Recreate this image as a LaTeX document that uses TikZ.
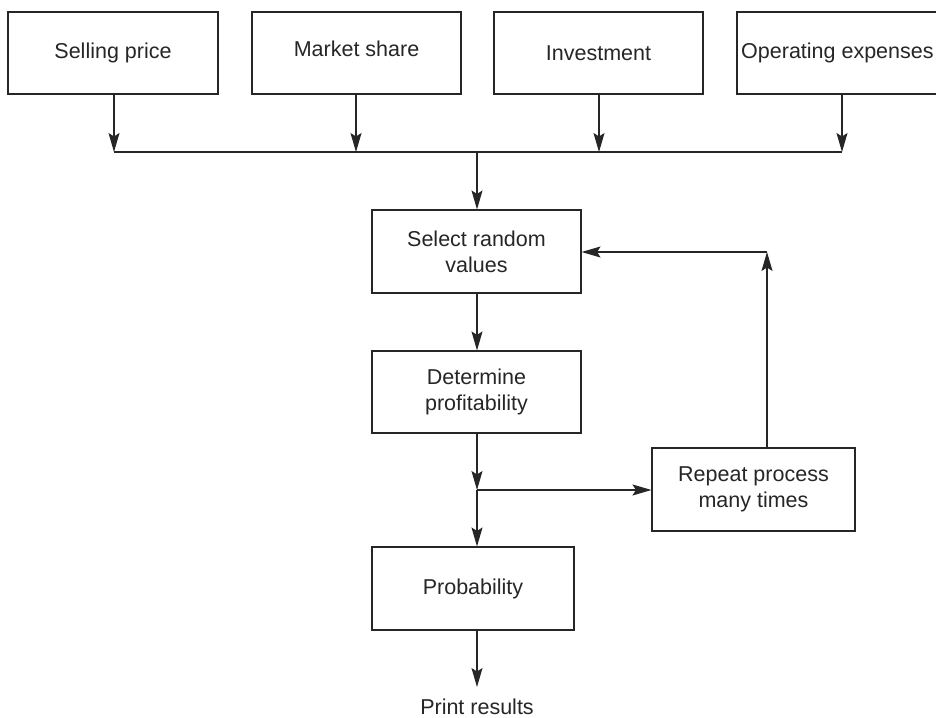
\documentclass[tikz,border=0pt]{standalone}
\usepackage{fontspec}
\setmainfont{Liberation Sans}
\usetikzlibrary{arrows.meta}
\definecolor{ink}{HTML}{262626}
\begin{document}
\begin{tikzpicture}[x=1pt,y=-1pt,
  box/.style={draw=ink,line width=1.1pt,text=ink,align=center,inner sep=0pt,
    font=\fontsize{21.5}{26}\selectfont},
  conn/.style={draw=ink,line width=1.1pt},
  arr/.style={conn,-{Stealth[length=19pt,width=11pt,inset=3.5pt]}}]
\clip (0,0) rectangle (936,717);
\fill[white] (0,0) rectangle (936,717);
% top boxes
\node[box,minimum width=210pt,minimum height=82pt] (sp) at (113,53) {};
\node[text=ink,font=\fontsize{21.5}{26}\selectfont] (spt) at (113,53) {Selling price};
\node[box,minimum width=209pt,minimum height=82pt] (ms) at (356.5,53) {};
\node[text=ink,font=\fontsize{21.5}{26}\selectfont] (mst) at (356.5,49) {Market share};
\node[box,minimum width=209pt,minimum height=82pt] (inv) at (598.5,53) {};
\node[text=ink,font=\fontsize{21.5}{26}\selectfont] (invt) at (598.5,53) {Investment};
\node[box,minimum width=210pt,minimum height=82pt] (opx) at (842,53) {};
\node[text=ink,font=\fontsize{21.5}{26}\selectfont,anchor=west,inner sep=0pt] (opxt) at (741,53) {Operating expenses};
% middle column
\node[box,minimum width=209pt,minimum height=83pt] (sel) at (476.5,251.5) {Select random\\values};
\node[box,minimum width=209pt,minimum height=82pt] (det) at (476.5,392) {Determine\\profitability};
\node[box,minimum width=203pt,minimum height=83pt] (rep) at (753.5,489.5) {Repeat process\\many times};
\node[box,minimum width=202pt,minimum height=83pt] (prob) at (473,588.5) {Probability};
\node[text=ink,font=\fontsize{21.5}{26}\selectfont,anchor=base,inner sep=0pt] (pr) at (477,714) {Print results};
% coordinates
\coordinate (h1) at (114,152);
\coordinate (h2) at (356,152);
\coordinate (h3) at (599,152);
\coordinate (h4) at (842,152);
\coordinate (hm) at (477,152);
\coordinate (j) at (477,490);
\coordinate (rt) at (767,448);
\coordinate (rc) at (767,252);
\coordinate (pe) at (477,687);
% connectors
\draw[arr] (sp.south -| h1) -- (h1);
\draw[arr] (ms.south -| h2) -- (h2);
\draw[arr] (inv.south -| h3) -- (h3);
\draw[arr] (opx.south -| h4) -- (h4);
\draw[conn] (h1) -- (h4);
\draw[arr] (hm) -- (sel.north -| hm);
\draw[arr] (sel.south -| hm) -- (det.north -| hm);
\draw[arr] (det.south -| j) -- (j);
\draw[arr] (j) -- (prob.north -| j);
\draw[arr] (j) -- (rep.west |- j);
\draw[arr] (rt) -- (rc);
\draw[arr] (rc) -- (sel.east |- rc);
\draw[arr] (prob.south -| j) -- (pe);
\end{tikzpicture}
\end{document}
